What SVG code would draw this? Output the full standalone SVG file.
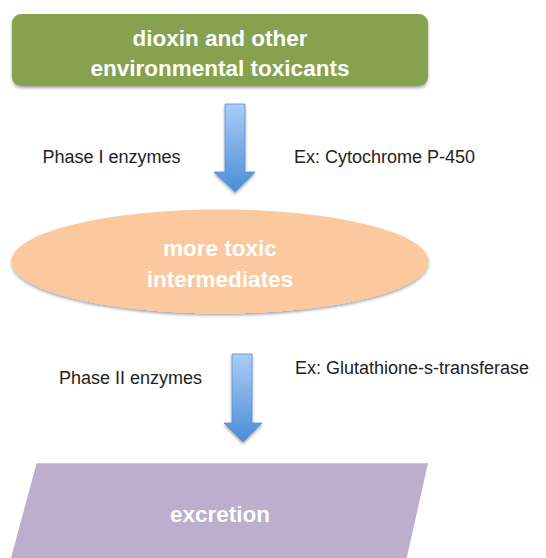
<svg xmlns="http://www.w3.org/2000/svg" width="546" height="558" viewBox="0 0 546 558">
  <defs>
    <linearGradient id="arrowGrad" x1="0" y1="0" x2="0" y2="1">
      <stop offset="0" stop-color="#AACCF7"/>
      <stop offset="1" stop-color="#4B8DD7"/>
    </linearGradient>
    <filter id="shadow" x="-10%" y="-10%" width="120%" height="130%">
      <feGaussianBlur in="SourceAlpha" stdDeviation="1.6"/>
      <feOffset dx="0" dy="2" result="b"/>
      <feComponentTransfer><feFuncA type="linear" slope="0.35"/></feComponentTransfer>
      <feMerge><feMergeNode/><feMergeNode in="SourceGraphic"/></feMerge>
    </filter>
    <style>
      .node-text { font-family: "Liberation Sans", Arial, sans-serif; font-weight: bold; font-size: 22.5px; fill: #ffffff; text-anchor: middle; }
      .label { font-family: "Liberation Sans", Arial, sans-serif; font-size: 18px; fill: #222222; }
      .arrow { fill: url(#arrowGrad); stroke: #5A8FD2; stroke-width: 0.8; filter: url(#shadow); }
    </style>
  </defs>
  <rect width="546" height="558" fill="#ffffff"/>

  <g id="node-dioxin">
    <rect x="12" y="14" width="416" height="72" rx="9" ry="9" fill="#86A24F" filter="url(#shadow)"/>
    <text class="node-text" x="220" y="46">dioxin and other</text>
    <text class="node-text" x="220" y="76">environmental toxicants</text>
  </g>

  <g id="node-intermediates">
    <ellipse cx="220" cy="261.5" rx="208.5" ry="52" fill="#FBC99D" filter="url(#shadow)"/>
    <text class="node-text" x="220" y="256">more toxic</text>
    <text class="node-text" x="220" y="287">intermediates</text>
  </g>

  <g id="node-excretion">
    <polygon points="36.6,463.3 428,463.3 406.7,558 11,558" fill="#BCAECC"/>
    <text class="node-text" x="220" y="522">excretion</text>
  </g>

  <g id="connectors">
    <polygon class="arrow" points="225,104 245,104 245,172 255,172 235,192 214,172 225,172"/>
    <text class="label" x="42.5" y="162.5">Phase I enzymes</text>
    <text class="label" x="294" y="162.5">Ex: Cytochrome P-450</text>

    <polygon class="arrow" points="232,354 252,354 252,423 262,423 243,442 224,423 232,423"/>
    <text class="label" x="59" y="384">Phase II enzymes</text>
    <text class="label" x="295" y="373.5">Ex: Glutathione-s-transferase</text>
  </g>
</svg>
